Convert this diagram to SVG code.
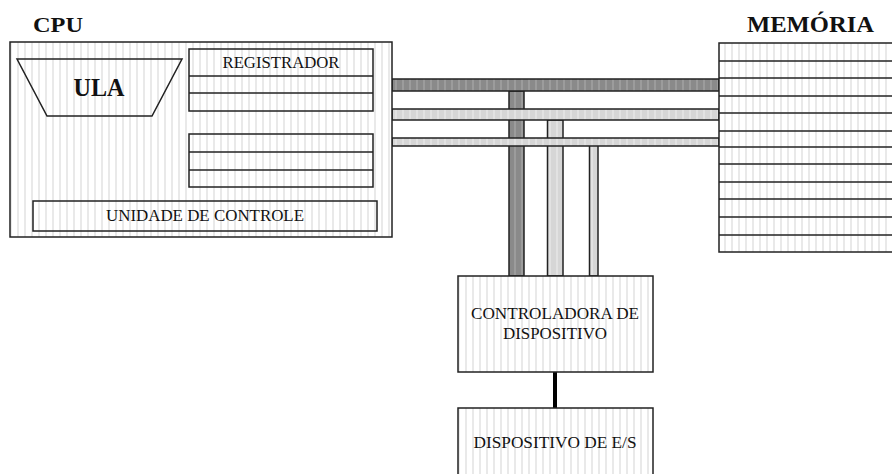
<svg xmlns="http://www.w3.org/2000/svg" width="892" height="474" viewBox="0 0 892 474">
<defs>
<pattern id="stripe" patternUnits="userSpaceOnUse" width="7" height="10">
<rect width="7" height="10" fill="#ffffff"/>
<rect x="3" width="2" height="10" fill="#e9e9e9"/>
</pattern>
<pattern id="darkstripe" patternUnits="userSpaceOnUse" width="7" height="10">
<rect width="7" height="10" fill="#8a8a8a"/>
<rect x="3" width="2" height="10" fill="#9c9c9c"/>
</pattern>
<pattern id="lightstripe" patternUnits="userSpaceOnUse" width="7" height="10">
<rect width="7" height="10" fill="#d6d6d6"/>
<rect x="3" width="2" height="10" fill="#e2e2e2"/>
</pattern>
<style>
.box{fill:url(#stripe);stroke:#222;stroke-width:1.5}
.line{stroke:#222;stroke-width:1.5;fill:none}
.dark{fill:url(#darkstripe);stroke:#222;stroke-width:1.5}
.light{fill:url(#lightstripe);stroke:#222;stroke-width:1.5}
.t{font-family:"Liberation Serif","Times New Roman",serif;fill:#111;text-anchor:middle}
.title{font-family:"Liberation Serif","Times New Roman",serif;font-weight:bold;fill:#111}
</style>
</defs>
<rect width="892" height="474" fill="#ffffff"/>

<g id="connectors">
<rect class="dark" x="509" y="91" width="15" height="185"/>
<rect class="light" x="547.5" y="120" width="15.5" height="156"/>
<rect class="light" x="589.5" y="144" width="8.5" height="132"/>
<rect class="dark" x="392" y="79" width="327" height="12"/>
<rect class="light" x="392" y="109" width="327" height="11"/>
<rect class="light" x="392" y="138" width="327" height="8"/>
<line x1="555" y1="372" x2="555" y2="408" stroke="#000" stroke-width="4"/>
</g>

<g id="cpu">
<text class="title" x="33" y="32" font-size="22" textLength="50" lengthAdjust="spacingAndGlyphs">CPU</text>
<rect class="box" x="10" y="42" width="382" height="195"/>
</g>

<g id="ula">
<polygon class="box" points="17,59 182,59 152,116 47,116"/>
<text class="title" x="99" y="96" font-size="25" text-anchor="middle" textLength="51" lengthAdjust="spacingAndGlyphs">ULA</text>
</g>

<g id="registrador">
<rect class="box" x="189" y="49" width="184" height="62"/>
<line class="line" x1="189" y1="76" x2="373" y2="76"/>
<line class="line" x1="189" y1="93" x2="373" y2="93"/>
<text class="t" x="281" y="68" font-size="16" textLength="117" lengthAdjust="spacingAndGlyphs">REGISTRADOR</text>
</g>

<g id="registradores2">
<rect class="box" x="189" y="134" width="184" height="53"/>
<line class="line" x1="189" y1="152" x2="373" y2="152"/>
<line class="line" x1="189" y1="170" x2="373" y2="170"/>
</g>

<g id="unidade-controle">
<rect class="box" x="33" y="201" width="344" height="30"/>
<text class="t" x="205" y="221" font-size="16" textLength="198" lengthAdjust="spacingAndGlyphs">UNIDADE DE CONTROLE</text>
</g>

<g id="memoria">
<text class="title" x="747" y="32" font-size="24" textLength="127" lengthAdjust="spacingAndGlyphs">MEMÓRIA</text>
<rect class="box" x="719" y="43" width="200" height="209"/>
<line class="line" x1="719" y1="61" x2="892" y2="61"/>
<line class="line" x1="719" y1="78" x2="892" y2="78"/>
<line class="line" x1="719" y1="96" x2="892" y2="96"/>
<line class="line" x1="719" y1="113" x2="892" y2="113"/>
<line class="line" x1="719" y1="131" x2="892" y2="131"/>
<line class="line" x1="719" y1="147" x2="892" y2="147"/>
<line class="line" x1="719" y1="164" x2="892" y2="164"/>
<line class="line" x1="719" y1="182" x2="892" y2="182"/>
<line class="line" x1="719" y1="199" x2="892" y2="199"/>
<line class="line" x1="719" y1="217" x2="892" y2="217"/>
<line class="line" x1="719" y1="235" x2="892" y2="235"/>
</g>

<g id="controladora">
<rect class="box" x="458" y="276" width="195" height="96"/>
<text class="t" x="555" y="319" font-size="16" textLength="168" lengthAdjust="spacingAndGlyphs">CONTROLADORA DE</text>
<text class="t" x="555" y="339" font-size="16" textLength="104" lengthAdjust="spacingAndGlyphs">DISPOSITIVO</text>
</g>

<g id="dispositivo">
<rect class="box" x="458" y="408" width="195" height="80"/>
<text class="t" x="555" y="448" font-size="16" textLength="163" lengthAdjust="spacingAndGlyphs">DISPOSITIVO DE E/S</text>
</g>
</svg>
